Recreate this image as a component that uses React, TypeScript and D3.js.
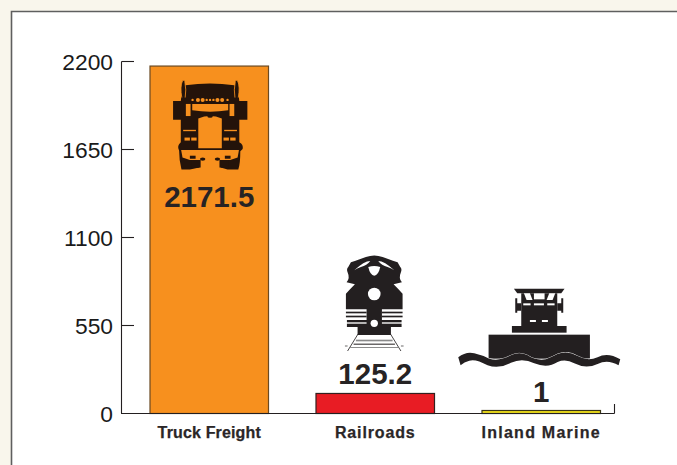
import React from "react";
import * as d3 from "d3";

const categories = ["Truck Freight", "Railroads", "Inland Marine"];
const values = [2171.5, 125.2, 1];
const valueLabels = ["2171.5", "125.2", "1"];
const colors = ["#f7901e", "#e81c24", "#f2e21b"];
const edgeColors = ["#6b4a22", "#33201f", "#3a3414"];
const ticks = [0, 550, 1100, 1650, 2200];

const W = 677, H = 465;
const y = d3.scaleLinear().domain([0, 2200]).range([413.5, 61.5]);
const x = d3.scaleBand().domain(categories).range([150, 600.5]).paddingInner(0.2861).paddingOuter(0);
const labelSpacing = [0.15, 0.85, 1.25];
const INK = "#231f20";
const TRUCK = "#24130a";

const TruckIcon = ({ fill }: { fill: string }) => (
  <g fill={TRUCK}>
    <path d="M-73 45 Q0 36 72 45 Q82 50 85 75 L87 92 L111 92 L111 148 L87 148 L87 215 Q100 222 97 235 L90 242 Q90 280 84 296 L52 296 L32 290 L32 268 L-32 268 L-32 290 L-60 296 L-85 296 Q-92 270 -92 240 Q-100 226 -87 215 L-87 148 L-110 148 L-110 92 L-87 92 L-85 75 Q-82 50 -73 45Z" />
    <path d="M-84 82 Q-90 50 -82 32 Q-78 28 -75 34 Q-70 60 -74 82" stroke={fill} strokeWidth="2.5" />
    <path d="M84 82 Q90 50 82 32 Q78 28 75 34 Q70 60 74 82" stroke={fill} strokeWidth="2.5" />
    <g fill={fill}>
      {[-52, -36, -22, -10, 0, 10, 22, 36, 52].map((c, i) => (
        <circle key={i} cx={c} cy={89} r={i === 1 || i === 2 || i === 6 || i === 7 ? 6 : 3.5} />
      ))}
      <path d="M-53 101 L54 101 L54 120 Q0 128 -53 120Z" />
      <rect x={-72} y={101} width={14} height={36} />
      <rect x={58} y={101} width={14} height={36} />
      <path d="M-35 144 Q0 130 35 144 L35 233 L-35 233Z" />
      <path d="M-80 178 L-42 178 L-42 182 L-80 182Z" />
      <path d="M42 178 L80 178 L80 182 L42 182Z" />
      <rect x={-76} y={201} width={16} height={9} />
      <rect x={-56} y={201} width={16} height={9} />
      <rect x={40} y={201} width={16} height={9} />
      <rect x={60} y={201} width={16} height={9} />
      <path d="M-86 238 L86 238 L82 260 L60 268 L-60 268 L-82 260Z" />
    </g>
    <ellipse cx={0} cy={138} rx={8} ry={4} />
    <rect x={-60} y={255} width={17} height={9} />
    <rect x={44} y={255} width={17} height={9} />
    <ellipse cx={-22} cy={265} rx={8} ry={5} />
    <ellipse cx={22} cy={265} rx={8} ry={5} />
    <path d="M-54 268 L-28 268 L-28 290 L-54 292Z" />
    <path d="M28 268 L54 268 L54 292 L28 290Z" />
  </g>
);

const TrainIcon = () => (
  <g fill={INK}>
    <path d="M-78 66 L-70 52 Q-40 42 -25 36 Q0 27 25 36 Q40 42 70 52 L78 66 Q84 72 80 82 Q72 100 83 112 L58 118 Q70 130 85 146 L85 193 L23 193 L23 225 L82 225 L82 246 L50 246 L50 270 L-50 270 L-50 246 L-82 246 L-82 225 L-23 225 L-23 193 L-85 193 L-85 146 Q-70 130 -58 118 L-83 112 Q-72 100 -80 82 Q-84 72 -78 66Z" />
    <rect x={-85} y={200} width={62} height={5} />
    <rect x={23} y={200} width={62} height={5} />
    <rect x={-85} y={212} width={62} height={5} />
    <rect x={23} y={212} width={62} height={5} />
    <rect x={-85} y={232} width={62} height={4} fill="#ffffff" />
    <rect x={23} y={232} width={62} height={4} fill="#ffffff" />
    <g fill="#ffffff">
      <path d="M-60 76 Q-30 48 -12 48 Q-22 62 -40 66 Q-52 70 -60 76Z" />
      <path d="M60 76 Q30 48 12 48 Q22 62 40 66 Q52 70 60 76Z" />
      <path d="M-18 66 Q-12 92 0 92 Q12 92 18 66 Q0 60 -18 66Z" />
      <circle cx={0} cy={147} r={19} />
      <circle cx={0} cy={235} r={11} />
    </g>
    <path d="M-48 266 L-80 318 M48 266 L80 318" stroke={INK} strokeWidth="2.5" fill="none" />
    <rect x={-55} y={284} width={110} height={5} fill="#8a8a8a" />
    <rect x={-62} y={296} width={124} height={3} />
    <rect x={-72} y={306} width={144} height={2} fill="#555" />
    <rect x={-88} y={302} width={8} height={2} />
    <rect x={80} y={302} width={8} height={2} />
  </g>
);

const BoatIcon = () => (
  <g fill={INK}>
    <path d="M-76 26 L76 26 L66 40 L-66 40Z" />
    <path d="M-54 40 L54 40 L54 150 L-54 150Z" />
    <rect x={-82} y={138} width={164} height={20} />
    <rect x={-152} y={164} width={304} height={72} />
    <path d="M-72 55 L-66 55 L-66 98 L-72 98Z M66 55 L72 55 L72 98 L66 98Z M-70 70 L-54 70 L-54 92 L-70 92Z M54 70 L70 70 L70 92 L54 92Z" />
    <g fill="#ffffff">
      <path d="M-46 40 L-28 40 L-20 60 L-38 60Z" />
      <path d="M-16 40 L16 40 L16 58 L-16 58Z" />
      <path d="M30 40 L48 40 L40 60 L22 60Z" />
      <rect x={-48} y={70} width={22} height={6} />
      <rect x={-16} y={70} width={30} height={6} />
      <rect x={24} y={70} width={22} height={6} />
      <rect x={-28} y={120} width={18} height={6} />
      <rect x={8} y={120} width={18} height={6} />
    </g>
    <path d="M-243 232 Q-220 214 -195 220 Q-170 226 -150 236 Q-120 245 -85 226 Q-60 214 -35 226 Q-10 243 20 238 Q40 230 55 222 Q85 210 115 228 Q145 245 175 232 Q205 215 243 238 L238 256 Q205 236 175 252 Q140 268 105 250 Q80 236 55 246 Q25 266 -15 250 Q-50 232 -85 248 Q-120 268 -155 256 Q-190 236 -210 242 Q-225 246 -236 256Z" stroke="#ffffff" strokeWidth="2.5" paintOrder="stroke" />
  </g>
);

const ICONS = [
  { top: 70, dx: 0.8, unit: 1 / 2.975 },
  { top: 245, dx: -1, unit: 1 / 3 },
  { top: 280, dx: -2, unit: 1 / 3 },
];

export default function App() {
  return (
    <svg width={W} height={H} viewBox={`0 0 ${W} ${H}`} style={{ position: "fixed", left: 0, top: 0, display: "block" }}
      fontFamily="'Liberation Sans', Arial, sans-serif">
      <rect width={W} height={H} fill="#f9f6ec" />
      <path d="M11.5 465 L11.5 11.5 L677 11.5 L677 465Z" fill="#ffffff" />
      <path d="M11.5 465 L11.5 11.5 L677 11.5" fill="none" stroke="#5f5f5f" strokeWidth="1.6" />

      {categories.map((c, i) => {
        const x0 = x(c)!;
        const cx = x0 + x.bandwidth() / 2;
        const top = Math.min(y(values[i]), y(0) - 3);
        return (
          <g key={c}>
            <rect x={x0} y={top} width={x.bandwidth()} height={y(0) - top} fill={colors[i]} stroke={edgeColors[i]} strokeWidth={1.2} />
            <text x={cx} y={438} textAnchor="middle" fontSize={16} fontWeight={700} letterSpacing={labelSpacing[i]} fill="#2a2627" stroke="#2a2627" strokeWidth={0.25}>{c}</text>
            <text x={cx} y={i === 0 ? 207 : i === 1 ? 384 : 402} textAnchor="middle" fontSize={29.5} fontWeight={700} fill="#262324">{valueLabels[i]}</text>
            <g transform={`translate(${cx + ICONS[i].dx},${ICONS[i].top}) scale(${ICONS[i].unit})`}>
              {i === 0 && <TruckIcon fill={colors[0]} />}
              {i === 1 && <TrainIcon />}
              {i === 2 && <BoatIcon />}
            </g>
          </g>
        );
      })}

      <g fill="none" stroke="#231f20" strokeWidth={1.1}>
        <line x1={121.5} x2={121.5} y1={y(2200)} y2={y(0)} />
        <line x1={121} x2={614.5} y1={y(0)} y2={y(0)} />
        <line x1={614.5} x2={614.5} y1={y(0)} y2={404} />
        {ticks.slice(1).map((t) => <line key={t} x1={121.5} x2={134} y1={y(t)} y2={y(t)} />)}
      </g>
      {ticks.map((t) => (
        <text key={t} x={113} y={y(t) + 8} textAnchor="end" fontSize={22.8} fill="#1a1a1a">{t}</text>
      ))}
    </svg>
  );
}
